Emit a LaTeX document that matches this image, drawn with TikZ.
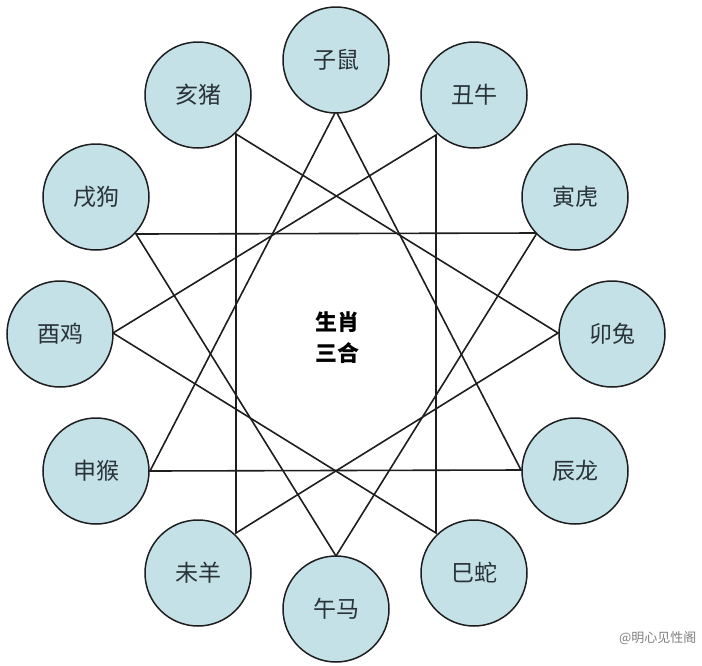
\documentclass[tikz,border=0pt]{standalone}
\usepackage{fontspec}
\newfontfamily\cjk{Noto Sans CJK SC}
\definecolor{cfill}{RGB}{196,225,232}
\definecolor{cline}{RGB}{30,30,30}
\definecolor{ctext}{RGB}{40,50,55}
\begin{document}
\begin{tikzpicture}[x=1pt,y=-1pt,
  zod/.style={circle,draw=cline,line width=1.5pt,fill=cfill,minimum size=106pt,inner sep=0pt,text=ctext,font=\cjk\fontsize{23}{26}\selectfont},
  ln/.style={line width=1.6pt,cline}]
\useasboundingbox (0,0) rectangle (702,665);
\fill[white] (0,0) rectangle (702,665);
% vertex points on the circles
\foreach \n/\x/\y in {zi/336/111,chou/436/135,yin/537/233,mao/558/333,chen/521/470,si/436/533,wu/336/556,wei/236/533,shen/150/471,you/113/333,xu/136/234,hai/236/134}
  \coordinate (p\n) at (\x,\y);
\draw[ln] (pzi) -- (pchen) -- (pshen) -- cycle;
\draw[ln] (phai) -- (pmao) -- (pwei) -- cycle;
\draw[ln] (pyin) -- (pwu) -- (pxu) -- cycle;
\draw[ln] (psi) -- (pyou) -- (pchou) -- cycle;
\foreach \n/\t/\x/\y in {zi/子鼠/336/60,chou/丑牛/474/95,yin/寅虎/575/197,mao/卯兔/612/334,chen/辰龙/575/471,si/巳蛇/474/573,wu/午马/336/609,wei/未羊/198/573,shen/申猴/96/471,you/酉鸡/60/334,xu/戌狗/96/197,hai/亥猪/198/95}
  \node[zod] (\n) at (\x,\y) {\raisebox{-6pt}{\t}};
\node[font=\cjk\bfseries\fontsize{22}{31}\selectfont,align=center] (c) at (337,338) {生肖\\三合};
\node[font=\cjk\fontsize{13}{15}\selectfont,text=black!50,anchor=east] (wm) at (700,638) {@明心见性阁};
\end{tikzpicture}
\end{document}
